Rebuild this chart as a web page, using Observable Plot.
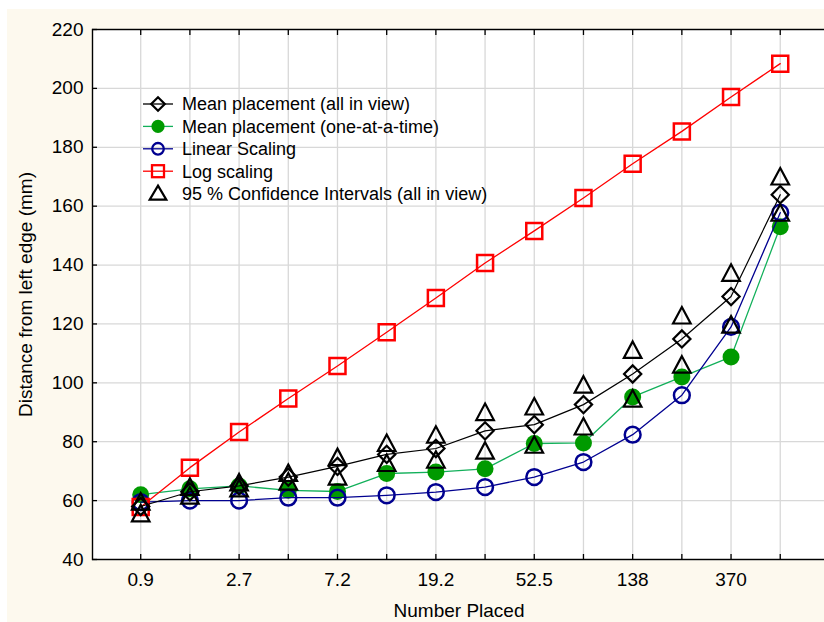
<!DOCTYPE html>
<html><head><meta charset="utf-8">
<script src="https://cdn.jsdelivr.net/npm/d3@7"></script>
<script src="https://cdn.jsdelivr.net/npm/@observablehq/plot@0.6"></script>
<style>
html,body{margin:0;padding:0;background:#fff;}
#wrap{position:relative;width:824px;height:622px;overflow:hidden;}
#bg{position:absolute;left:7px;top:9px;right:0;bottom:0;background:#fdf9ee;}
#chart{position:absolute;left:0;top:0;}
#legend{position:absolute;left:0;top:0;}
</style></head><body>
<div id="wrap"><div id="bg"></div><div id="chart"></div><svg id="legend" width="824" height="622"></svg></div>
<script>
// categories (positions 0..13 along the x axis)
const pointIndex = [0,1,2,3,4,5,6,7,8,9,10,11,12,13];
const xTickIndex = [0,2,4,6,8,10,12];
const xTickLabels = ["0.9","2.7","7.2","19.2","52.5","138","370"];
const yTicks = [40,60,80,100,120,140,160,180,200,220];

// series values (mm)
const meanAllInView   = [58, 63, 65, 68, 71.6, 75.7, 77.7, 83.7, 85.8, 92.6, 103, 114.9, 129.3, 163.9];
const meanOneAtATime  = [62, 64, 65, 63.5, 63.1, 69.2, 69.7, 70.8, 79.4, 79.6, 95.2, 102, 108.8, 153];
const linearScaling   = [59.5, 60, 60, 61, 61, 61.8, 62.9, 64.6, 68, 73.1, 82.4, 95.8, 119, 157.8];
const logScaling      = [57.8, 71.2, 83.3, 94.7, 105.7, 117.2, 128.8, 140.7, 151.6, 162.8, 174.4, 185.4, 197.1, 208.4];
const ciUpper         = [59.5, 64.5, 66, 69.2, 74.6, 79.4, 82.2, 89.9, 91.8, 99.2, 111, 122.7, 137.2, 169.9];
const ciLower         = [55.5, 61.5, 64, 66.3, 68, 72.6, 73.7, 76.8, 78.8, 85, 94.5, 106, 119.6, 157.6];

const seriesNames = ["Mean placement (all in view)","Mean placement (one-at-a-time)","Linear Scaling","Log scaling","95 % Confidence Intervals (all in view)"];

const C_BLACK = "#000000", C_GREEN_LINE = "#12b05a", C_GREEN = "#009a00", C_BLUE = "#000090", C_RED = "#ff0000";

function rows(vals){ return pointIndex.map((i,k)=>({i, v: vals[k]})); }
const ciRows = [...rows(ciUpper), ...rows(ciLower)];

// custom symbols
const symDiamond = {draw(ctx){const h=8.6; ctx.moveTo(0,-h);ctx.lineTo(h,0);ctx.lineTo(0,h);ctx.lineTo(-h,0);ctx.closePath();}};
const symSquare = {draw(ctx){const h=8; ctx.moveTo(-h,-h);ctx.lineTo(h,-h);ctx.lineTo(h,h);ctx.lineTo(-h,h);ctx.closePath();}};
const symTriangle = {draw(ctx){ctx.moveTo(0,-9);ctx.lineTo(8.8,7.5);ctx.lineTo(-8.8,7.5);ctx.closePath();}};

const font = "'Liberation Sans', Arial, sans-serif";

const chart = Plot.plot({
  width: 824, height: 622,
  marginLeft: 92, marginTop: 29, marginBottom: 63, marginRight: -1,
  style: {background: "transparent", fontFamily: font, fontSize: "19px", color: "#000", overflow: "hidden"},
  x: {type: "linear", domain: [-0.98, 13.92]},
  y: {domain: [40, 220]},
  marks: [
    Plot.frame({fill: "#ffffff", stroke: null}),
    Plot.gridX(pointIndex, {stroke: "#d8d8d8", strokeOpacity: 1, strokeWidth: 1.3}),
    Plot.gridY(yTicks, {stroke: "#d8d8d8", strokeOpacity: 1, strokeWidth: 1.3}),
    // ticks inward
    Plot.axisX(pointIndex, {anchor: "bottom", tickSize: -5, tickFormat: () => "", label: null, strokeWidth: 1.3}),
    Plot.axisX(pointIndex, {anchor: "top", tickSize: -5, tickFormat: () => "", label: null, strokeWidth: 1.3}),
    Plot.axisY(yTicks, {anchor: "left", tickSize: -5, tickFormat: () => "", label: null, strokeWidth: 1.3}),
    // tick labels
    Plot.axisX(xTickIndex, {anchor: "bottom", tickSize: 0, tickPadding: 13, tickFormat: (d) => xTickLabels[xTickIndex.indexOf(d)], fontSize: 19,
      label: "Number Placed", labelAnchor: "center", labelArrow: "none", labelOffset: 57}),
    Plot.axisY(yTicks, {anchor: "left", tickSize: 0, tickPadding: 9, fontSize: 19,
      label: "Distance from left edge (mm)", labelAnchor: "center", labelArrow: "none", labelOffset: 74}),
    Plot.frame({stroke: "#000", strokeWidth: 1.4, fill: "none"}),
    // series
    Plot.line(rows(meanOneAtATime), {x: "i", y: "v", stroke: C_GREEN_LINE, strokeWidth: 1.3}),
    Plot.dot(rows(meanOneAtATime), {x: "i", y: "v", r: 8.5, fill: C_GREEN, stroke: null}),
    Plot.line(rows(linearScaling), {x: "i", y: "v", stroke: C_BLUE, strokeWidth: 1.3}),
    Plot.dot(rows(linearScaling), {x: "i", y: "v", r: 7.9, fill: "none", stroke: C_BLUE, strokeWidth: 2.5}),
    Plot.line(rows(logScaling), {x: "i", y: "v", stroke: C_RED, strokeWidth: 1.3}),
    Plot.dot(rows(logScaling), {x: "i", y: "v", symbol: symSquare, r: 8, fill: "none", stroke: C_RED, strokeWidth: 2.5}),
    Plot.line(rows(meanAllInView), {x: "i", y: "v", stroke: C_BLACK, strokeWidth: 1.2}),
    Plot.dot(rows(meanAllInView), {x: "i", y: "v", symbol: symDiamond, r: 8, fill: "none", stroke: C_BLACK, strokeWidth: 2.2}),
    Plot.dot(ciRows, {x: "i", y: "v", symbol: symTriangle, r: 8, fill: "none", stroke: C_BLACK, strokeWidth: 2.2})
  ]
});
document.getElementById("chart").appendChild(chart);

// legend
const leg = d3.select("#legend");
const legendItems = [
  {name: seriesNames[0], line: C_BLACK, sym: "diamond"},
  {name: seriesNames[1], line: C_GREEN_LINE, sym: "dot"},
  {name: seriesNames[2], line: C_BLUE, sym: "circle"},
  {name: seriesNames[3], line: C_RED, sym: "square"},
  {name: seriesNames[4], line: null, sym: "triangle"}
];
const legendTop = 104, legendStep = 22.4, lx0 = 143, lx1 = 173, lmx = 158, ltx = 182;
legendItems.forEach((d, k) => {
  const y = legendTop + k * legendStep;
  const g = leg.append("g");
  if (d.line) g.append("line").attr("x1", lx0).attr("x2", lx1).attr("y1", y).attr("y2", y).attr("stroke", d.line).attr("stroke-width", 1.3);
  const m = g.append("g").attr("transform", `translate(${lmx},${y})`);
  if (d.sym === "diamond") m.append("path").attr("d", "M0,-6.8L6.8,0L0,6.8L-6.8,0Z").attr("fill", "none").attr("stroke", C_BLACK).attr("stroke-width", 2.2);
  if (d.sym === "dot") m.append("circle").attr("r", 6.6).attr("fill", C_GREEN);
  if (d.sym === "circle") m.append("circle").attr("r", 5.8).attr("fill", "none").attr("stroke", C_BLUE).attr("stroke-width", 2.3);
  if (d.sym === "square") m.append("rect").attr("x", -6).attr("y", -6).attr("width", 12).attr("height", 12).attr("fill", "none").attr("stroke", C_RED).attr("stroke-width", 2.3);
  if (d.sym === "triangle") m.append("path").attr("d", "M0,-8L8.3,6L-8.3,6Z").attr("fill", "none").attr("stroke", C_BLACK).attr("stroke-width", 2.2);
  g.append("text").attr("x", ltx).attr("y", y).attr("dy", "0.35em").attr("font-family", font).attr("font-size", 18).attr("fill", "#000").text(d.name);
});
</script>
</body></html>
